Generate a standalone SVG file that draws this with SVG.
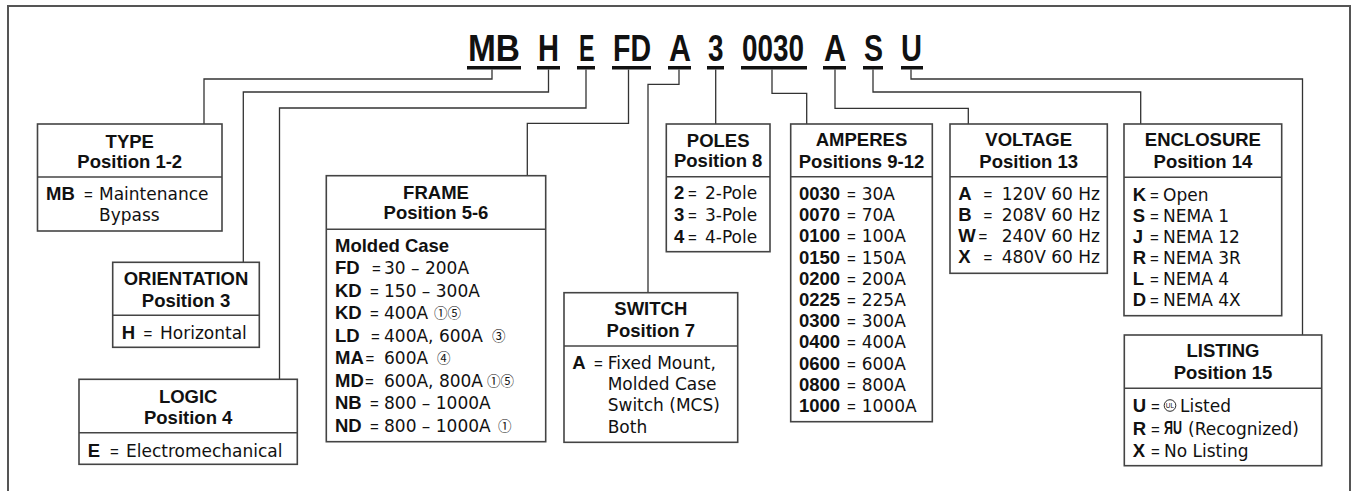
<svg xmlns="http://www.w3.org/2000/svg" width="1356" height="491" viewBox="0 0 1356 491">
<style>
.frame{fill:none;stroke:#555;stroke-width:2}
.conn path{fill:none;stroke:#333;stroke-width:1.3}
.box{fill:#fff;stroke:#444;stroke-width:1.6}
.div{stroke:#444;stroke-width:1.6}
.code{font-family:"Liberation Sans",Arial,sans-serif;font-weight:bold;font-size:37px;fill:#111}
.ul{fill:#111}
.h{font-family:"Liberation Sans",Arial,sans-serif;font-weight:bold;font-size:18.5px;text-anchor:middle;fill:#111}
.t{font-family:"DejaVu Sans",Verdana,sans-serif;font-size:17px;fill:#111}
.b{font-family:"Liberation Sans",Arial,sans-serif;font-weight:bold;font-size:18.5px}
.eq{font-family:"Liberation Sans",Arial,sans-serif;font-size:15px}
.sup{font-family:"Noto Sans CJK JP","DejaVu Sans",sans-serif;font-size:13.5px;fill:#111}
</style>
<path class="frame" d="M8,491 V6 H1350 V491"/>
<g id="code">
<text class="code" x="468" y="61" textLength="52" lengthAdjust="spacingAndGlyphs">MB</text>
<text class="code" x="538" y="61" textLength="21" lengthAdjust="spacingAndGlyphs">H</text>
<text class="code" x="579" y="61" textLength="15.5" lengthAdjust="spacingAndGlyphs">E</text>
<text class="code" x="613" y="61" textLength="38" lengthAdjust="spacingAndGlyphs">FD</text>
<text class="code" x="669" y="61" textLength="22" lengthAdjust="spacingAndGlyphs">A</text>
<text class="code" x="708" y="61" textLength="15.5" lengthAdjust="spacingAndGlyphs">3</text>
<text class="code" x="742" y="61" textLength="62" lengthAdjust="spacingAndGlyphs">0030</text>
<text class="code" x="824" y="61" textLength="22" lengthAdjust="spacingAndGlyphs">A</text>
<text class="code" x="864" y="61" textLength="19" lengthAdjust="spacingAndGlyphs">S</text>
<text class="code" x="901" y="61" textLength="21" lengthAdjust="spacingAndGlyphs">U</text>
<rect class="ul" x="467" y="66" width="54" height="3.5"/>
<rect class="ul" x="537" y="66" width="23" height="3.5"/>
<rect class="ul" x="577" y="66" width="18" height="3.5"/>
<rect class="ul" x="612" y="66" width="39" height="3.5"/>
<rect class="ul" x="668" y="66" width="23" height="3.5"/>
<rect class="ul" x="707" y="66" width="17" height="3.5"/>
<rect class="ul" x="741" y="66" width="66" height="3.5"/>
<rect class="ul" x="823" y="66" width="23" height="3.5"/>
<rect class="ul" x="863" y="66" width="20" height="3.5"/>
<rect class="ul" x="901" y="66" width="22" height="3.5"/>
</g>
<g class="conn" id="connectors">
<path d="M492,69.5 V79 H204 V124"/>
<path d="M548.5,69.5 V92 H243.3 V262.3"/>
<path d="M586,69.5 V108 H279.5 V379.3"/>
<path d="M628.5,69.5 V123.3 H527.3 V175.7"/>
<path d="M679,69.5 V84.3 H648 V292.7"/>
<path d="M715.7,69.5 V124"/>
<path d="M772,69.5 V93.3 H806.7 V124"/>
<path d="M835,69.5 V108.3 H968.3 V124"/>
<path d="M873,69.5 V92 H1140.7 V124"/>
<path d="M911,69.5 V79 H1302.5 V335"/>
</g>
<g id="type">
<rect class="box" x="37.5" y="124" width="184.5" height="107"/>
<line class="div" x1="37.5" y1="177" x2="222" y2="177"/>
<text class="h" x="129.75" y="147.5">TYPE</text>
<text class="h" x="129.75" y="168">Position 1-2</text>
<text class="t" y="200"><tspan class="b" x="46">MB</tspan><tspan class="eq" x="84">=</tspan><tspan x="99">Maintenance</tspan></text>
<text class="t" x="99" y="221">Bypass</text>
</g>
<g id="orientation">
<rect class="box" x="112.7" y="262.3" width="146.6" height="85"/>
<line class="div" x1="112.7" y1="315.3" x2="259.3" y2="315.3"/>
<text class="h" x="186" y="285">ORIENTATION</text>
<text class="h" x="186" y="306.5">Position 3</text>
<text class="t" y="339"><tspan class="b" x="121.7">H</tspan><tspan class="eq" x="143.5">=</tspan><tspan x="160">Horizontal</tspan></text>
</g>
<g id="logic">
<rect class="box" x="79" y="379.3" width="218.3" height="85"/>
<line class="div" x1="79" y1="432.7" x2="297.3" y2="432.7"/>
<text class="h" x="188.2" y="403">LOGIC</text>
<text class="h" x="188.2" y="424">Position 4</text>
<text class="t" y="456.5"><tspan class="b" x="87.7">E</tspan><tspan class="eq" x="110">=</tspan><tspan x="126">Electromechanical</tspan></text>
</g>
<g id="frame">
<rect class="box" x="326.3" y="175.7" width="219.4" height="266"/>
<line class="div" x1="326.3" y1="229.3" x2="545.7" y2="229.3"/>
<text class="h" x="436" y="199.3">FRAME</text>
<text class="h" x="436" y="219.3">Position 5-6</text>
<text class="t b" x="335" y="251.5">Molded Case</text>
<text class="t" y="274"><tspan class="b" x="335">FD</tspan><tspan class="eq" x="372">=</tspan><tspan x="384">30 – 200A</tspan></text>
<text class="t" y="296.5"><tspan class="b" x="335">KD</tspan><tspan class="eq" x="370">=</tspan><tspan x="384">150 – 300A</tspan></text>
<text class="t" y="319"><tspan class="b" x="335">KD</tspan><tspan class="eq" x="370">=</tspan><tspan x="384">400A</tspan></text>
<text class="sup" x="434" y="318">①⑤</text>
<text class="t" y="341.5"><tspan class="b" x="335">LD</tspan><tspan class="eq" x="371">=</tspan><tspan x="384">400A, 600A</tspan></text>
<text class="sup" x="492" y="340.5">③</text>
<text class="t" y="364"><tspan class="b" x="335">MA</tspan><tspan class="eq" x="365.5">=</tspan><tspan x="384">600A</tspan></text>
<text class="sup" x="437" y="363">④</text>
<text class="t" y="386.5"><tspan class="b" x="335">MD</tspan><tspan class="eq" x="365">=</tspan><tspan x="384">600A, 800A</tspan></text>
<text class="sup" x="487" y="385.5">①⑤</text>
<text class="t" y="409"><tspan class="b" x="335">NB</tspan><tspan class="eq" x="370">=</tspan><tspan x="384">800 – 1000A</tspan></text>
<text class="t" y="431.5"><tspan class="b" x="335">ND</tspan><tspan class="eq" x="370">=</tspan><tspan x="384">800 – 1000A</tspan></text>
<text class="sup" x="498" y="430.5">①</text>
</g>
<g id="switch">
<rect class="box" x="564" y="292.7" width="173.7" height="149.6"/>
<line class="div" x1="564" y1="346" x2="737.7" y2="346"/>
<text class="h" x="650.8" y="315">SWITCH</text>
<text class="h" x="650.8" y="337.3">Position 7</text>
<text class="t" y="369.3"><tspan class="b" x="572.3">A</tspan><tspan class="eq" x="594">=</tspan><tspan x="607.7">Fixed Mount,</tspan></text>
<text class="t" x="607.7" y="390.3">Molded Case</text>
<text class="t" x="607.7" y="411.3">Switch (MCS)</text>
<text class="t" x="607.7" y="432.5">Both</text>
</g>
<g id="poles">
<rect class="box" x="666.3" y="124" width="103.7" height="127.7"/>
<line class="div" x1="666.3" y1="176.7" x2="770" y2="176.7"/>
<text class="h" x="718.2" y="146.7">POLES</text>
<text class="h" x="718.2" y="167.3">Position 8</text>
<text class="t" y="199.3"><tspan class="b" x="674">2</tspan><tspan class="eq" x="688">=</tspan><tspan x="705">2-Pole</tspan></text>
<text class="t" y="221"><tspan class="b" x="674">3</tspan><tspan class="eq" x="688">=</tspan><tspan x="705">3-Pole</tspan></text>
<text class="t" y="242.7"><tspan class="b" x="674">4</tspan><tspan class="eq" x="688">=</tspan><tspan x="705">4-Pole</tspan></text>
</g>
<g id="amperes">
<rect class="box" x="790.7" y="124" width="141.6" height="297.7"/>
<line class="div" x1="790.7" y1="176.7" x2="932.3" y2="176.7"/>
<text class="h" x="861.5" y="146">AMPERES</text>
<text class="h" x="861.5" y="167.7">Positions 9-12</text>
<text class="t" y="200"><tspan class="b" x="799">0030</tspan><tspan class="eq" x="847">=</tspan><tspan x="861.7">30A</tspan></text>
<text class="t" y="221.2"><tspan class="b" x="799">0070</tspan><tspan class="eq" x="847">=</tspan><tspan x="861.7">70A</tspan></text>
<text class="t" y="242.4"><tspan class="b" x="799">0100</tspan><tspan class="eq" x="847">=</tspan><tspan x="861.7">100A</tspan></text>
<text class="t" y="263.6"><tspan class="b" x="799">0150</tspan><tspan class="eq" x="847">=</tspan><tspan x="861.7">150A</tspan></text>
<text class="t" y="284.8"><tspan class="b" x="799">0200</tspan><tspan class="eq" x="847">=</tspan><tspan x="861.7">200A</tspan></text>
<text class="t" y="306"><tspan class="b" x="799">0225</tspan><tspan class="eq" x="847">=</tspan><tspan x="861.7">225A</tspan></text>
<text class="t" y="327.2"><tspan class="b" x="799">0300</tspan><tspan class="eq" x="847">=</tspan><tspan x="861.7">300A</tspan></text>
<text class="t" y="348.4"><tspan class="b" x="799">0400</tspan><tspan class="eq" x="847">=</tspan><tspan x="861.7">400A</tspan></text>
<text class="t" y="369.6"><tspan class="b" x="799">0600</tspan><tspan class="eq" x="847">=</tspan><tspan x="861.7">600A</tspan></text>
<text class="t" y="390.8"><tspan class="b" x="799">0800</tspan><tspan class="eq" x="847">=</tspan><tspan x="861.7">800A</tspan></text>
<text class="t" y="412"><tspan class="b" x="799">1000</tspan><tspan class="eq" x="847">=</tspan><tspan x="861.7">1000A</tspan></text>
</g>
<g id="voltage">
<rect class="box" x="950" y="124" width="157.3" height="149.3"/>
<line class="div" x1="950" y1="176.7" x2="1107.3" y2="176.7"/>
<text class="h" x="1028.7" y="146">VOLTAGE</text>
<text class="h" x="1028.7" y="167.7">Position 13</text>
<text class="t" y="200"><tspan class="b" x="958.3">A</tspan><tspan class="eq" x="983.5">=</tspan><tspan x="1001.7">120V 60 Hz</tspan></text>
<text class="t" y="221"><tspan class="b" x="958.3">B</tspan><tspan class="eq" x="983.5">=</tspan><tspan x="1001.7">208V 60 Hz</tspan></text>
<text class="t" y="242"><tspan class="b" x="958.3">W</tspan><tspan class="eq" x="978.5">=</tspan><tspan x="1001.7">240V 60 Hz</tspan></text>
<text class="t" y="263.3"><tspan class="b" x="958.3">X</tspan><tspan class="eq" x="983.5">=</tspan><tspan x="1001.7">480V 60 Hz</tspan></text>
</g>
<g id="enclosure">
<rect class="box" x="1124" y="124" width="157.7" height="191.7"/>
<line class="div" x1="1124" y1="177.3" x2="1281.7" y2="177.3"/>
<text class="h" x="1202.9" y="146">ENCLOSURE</text>
<text class="h" x="1202.9" y="167.7">Position 14</text>
<text class="t" y="201"><tspan class="b" x="1132.7">K</tspan><tspan class="eq" x="1150">=</tspan><tspan x="1163">Open</tspan></text>
<text class="t" y="222"><tspan class="b" x="1132.7">S</tspan><tspan class="eq" x="1150">=</tspan><tspan x="1163">NEMA 1</tspan></text>
<text class="t" y="243"><tspan class="b" x="1132.7">J</tspan><tspan class="eq" x="1150">=</tspan><tspan x="1163">NEMA 12</tspan></text>
<text class="t" y="264"><tspan class="b" x="1132.7">R</tspan><tspan class="eq" x="1150">=</tspan><tspan x="1163">NEMA 3R</tspan></text>
<text class="t" y="285.3"><tspan class="b" x="1132.7">L</tspan><tspan class="eq" x="1150">=</tspan><tspan x="1163">NEMA 4</tspan></text>
<text class="t" y="306"><tspan class="b" x="1132.7">D</tspan><tspan class="eq" x="1150">=</tspan><tspan x="1163">NEMA 4X</tspan></text>
</g>
<g id="listing">
<rect class="box" x="1124.3" y="335" width="197.4" height="130.7"/>
<line class="div" x1="1124.3" y1="388.3" x2="1321.7" y2="388.3"/>
<text class="h" x="1223" y="357.3">LISTING</text>
<text class="h" x="1223" y="379.3">Position 15</text>
<text class="t" y="411.7"><tspan class="b" x="1132.7">U</tspan><tspan class="eq" x="1151">=</tspan><tspan x="1180">Listed</tspan></text>
<circle cx="1170" cy="405.5" r="5.8" fill="none" stroke="#111" stroke-width="0.9"/>
<text x="1170" y="407.8" font-family="Liberation Sans,Arial,sans-serif" font-size="6.5" text-anchor="middle" fill="#111">UL</text>
<text class="t" y="434.5"><tspan class="b" x="1132.7">R</tspan><tspan class="eq" x="1151">=</tspan><tspan x="1188">(Recognized)</tspan></text>
<text class="b" x="1164" y="433.5" font-size="14" textLength="18" lengthAdjust="spacingAndGlyphs" fill="#111">ЯU</text>
<text class="t" y="456.7"><tspan class="b" x="1132.7">X</tspan><tspan class="eq" x="1151">=</tspan><tspan x="1164">No Listing</tspan></text>
</g>
</svg>
